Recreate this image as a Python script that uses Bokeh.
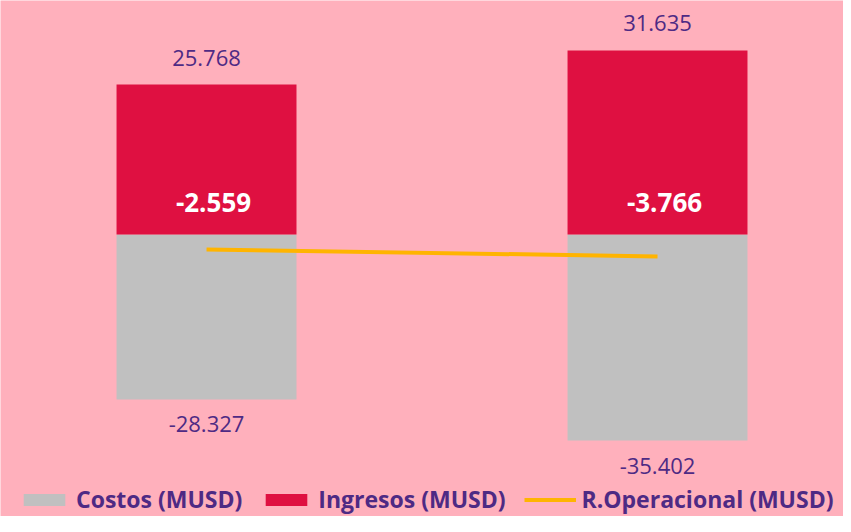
from bokeh.plotting import figure
from bokeh.models import Range1d, Legend, LegendItem, ColumnDataSource
from bokeh.core.properties import value
from bokeh.embed import file_html
from bokeh.resources import INLINE

# ---- data ----
periods = [0, 1]
ingresos = [25.768, 31.635]
costos = [-28.327, -35.402]
r_operacional = [-2.559, -3.766]
ingresos_labels = ["25.768", "31.635"]
costos_labels = ["-28.327", "-35.402"]
r_op_labels = ["-2.559", "-3.766"]
legend_labels = ["Costos (MUSD)", "Ingresos (MUSD)", "R.Operacional (MUSD)"]

BG = "#FFB0BC"
PURPLE = "#4E2A84"
FONT = "Open Sans"

src = ColumnDataSource(dict(
    x=periods, ing=ingresos, cos=costos, rop=r_operacional,
    ing_l=ingresos_labels, cos_l=costos_labels, rop_l=r_op_labels,
))

p = figure(width=843, height=516, output_backend="svg", toolbar_location=None,
           x_range=Range1d(-0.4568, 1.4124), y_range=Range1d(-48.45, 40.21),
           x_axis_type=None, y_axis_type=None, min_border=0,
           background_fill_color=BG, border_fill_color=BG, outline_line_color=None)
p.grid.visible = False

r_cost = p.vbar(x="x", top="cos", bottom=0, width=0.399, source=src,
                fill_color="#C0C0C0", line_color=None)
r_ing = p.vbar(x="x", top="ing", bottom=0, width=0.399, source=src,
               fill_color="#DF1041", line_color=None)
r_line = p.line(x="x", y="rop", source=src, line_color="#FFB400", line_width=4)

p.text(x="x", y="ing", text="ing_l", source=src, text_align="center",
       text_baseline="alphabetic", y_offset=-27, text_color=PURPLE,
       text_font=value(FONT), text_font_size="22px")
p.text(x="x", y="cos", text="cos_l", source=src, text_align="center",
       text_baseline="alphabetic", y_offset=25, text_color=PURPLE,
       text_font=value(FONT), text_font_size="22px")
p.text(x="x", y=0, text="rop_l", source=src, text_align="center",
       text_baseline="alphabetic", y_offset=-32, x_offset=7, text_color="white",
       text_font=value(FONT), text_font_size="26px", text_font_style="bold")

legend = Legend(
    items=[LegendItem(label=legend_labels[0], renderers=[r_cost]),
           LegendItem(label=legend_labels[1], renderers=[r_ing]),
           LegendItem(label=legend_labels[2], renderers=[r_line])],
    orientation="horizontal", location=(18, 1),
    glyph_width=52, glyph_height=15, label_standoff=6, spacing=18,
    padding=0, margin=0, background_fill_alpha=0, border_line_alpha=0,
    label_text_font=FONT, label_text_font_size="23px",
    label_text_font_style="bold", label_text_color=PURPLE,
)
p.add_layout(legend)

open("out.html", "w").write(file_html(p, INLINE))
